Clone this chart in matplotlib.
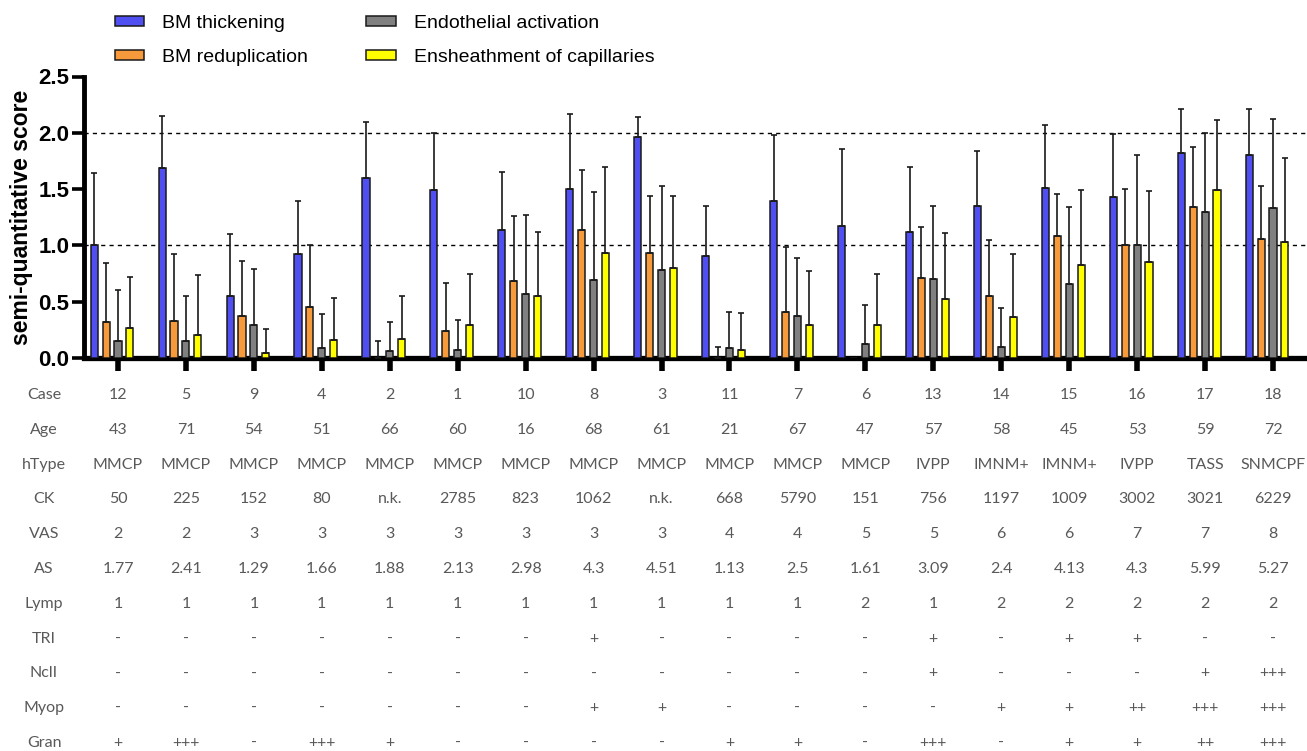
import matplotlib
matplotlib.use("Agg")
import matplotlib.pyplot as plt
import numpy as np
from matplotlib.transforms import blended_transform_factory

# ---------------- data ----------------
series = ["BM thickening", "BM reduplication", "Endothelial activation", "Ensheathment of capillaries"]
colors = ["#5050F2", "#F79A3C", "#808080", "#FFFF00"]

bm_thick_mean = [1.00, 1.69, 0.55, 0.92, 1.60, 1.49, 1.14, 1.50, 1.96, 0.91, 1.39, 1.17, 1.12, 1.35, 1.51, 1.43, 1.82, 1.80]
bm_thick_top  = [1.64, 2.15, 1.10, 1.39, 2.10, 2.00, 1.65, 2.17, 2.14, 1.35, 1.98, 1.86, 1.70, 1.84, 2.07, 1.99, 2.21, 2.21]
bm_redup_mean = [0.32, 0.33, 0.37, 0.45, 0.00, 0.24, 0.68, 1.14, 0.93, 0.00, 0.41, 0.00, 0.71, 0.55, 1.08, 1.00, 1.34, 1.06]
bm_redup_top  = [0.84, 0.92, 0.86, 1.00, 0.15, 0.67, 1.26, 1.67, 1.44, 0.10, 0.99, 0.00, 1.16, 1.05, 1.46, 1.50, 1.87, 1.53]
endo_mean     = [0.15, 0.15, 0.29, 0.09, 0.06, 0.07, 0.57, 0.69, 0.78, 0.09, 0.37, 0.12, 0.70, 0.10, 0.66, 1.00, 1.30, 1.33]
endo_top      = [0.60, 0.55, 0.79, 0.39, 0.32, 0.34, 1.27, 1.47, 1.53, 0.41, 0.89, 0.47, 1.35, 0.44, 1.34, 1.80, 2.00, 2.12]
ensh_mean     = [0.27, 0.20, 0.04, 0.16, 0.17, 0.29, 0.55, 0.93, 0.80, 0.07, 0.29, 0.29, 0.52, 0.36, 0.83, 0.85, 1.49, 1.03]
ensh_top      = [0.72, 0.74, 0.26, 0.53, 0.55, 0.75, 1.12, 1.70, 1.44, 0.40, 0.77, 0.75, 1.11, 0.92, 1.49, 1.48, 2.11, 1.78]

row_labels = ["Case", "Age", "hType", "CK", "VAS", "AS", "Lymp", "TRI", "NclI", "Myop", "Gran"]
case  = ["12", "5", "9", "4", "2", "1", "10", "8", "3", "11", "7", "6", "13", "14", "15", "16", "17", "18"]
age   = ["43", "71", "54", "51", "66", "60", "16", "68", "61", "21", "67", "47", "57", "58", "45", "53", "59", "72"]
htype = ["MMCP"] * 12 + ["IVPP", "IMNM+", "IMNM+", "IVPP", "TASS", "SNMCPF"]
ck    = ["50", "225", "152", "80", "n.k.", "2785", "823", "1062", "n.k.", "668", "5790", "151", "756", "1197", "1009", "3002", "3021", "6229"]
vas   = ["2", "2", "3", "3", "3", "3", "3", "3", "3", "4", "4", "5", "5", "6", "6", "7", "7", "8"]
as_   = ["1.77", "2.41", "1.29", "1.66", "1.88", "2.13", "2.98", "4.3", "4.51", "1.13", "2.5", "1.61", "3.09", "2.4", "4.13", "4.3", "5.99", "5.27"]
lymp  = ["1"] * 11 + ["2", "1", "2", "2", "2", "2", "2"]
tri   = ["-", "-", "-", "-", "-", "-", "-", "+", "-", "-", "-", "-", "+", "-", "+", "+", "-", "-"]
ncli  = ["-"] * 12 + ["+", "-", "-", "-", "+", "+++"]
myop  = ["-", "-", "-", "-", "-", "-", "-", "+", "+", "-", "-", "-", "-", "+", "+", "++", "+++", "+++"]
gran  = ["+", "+++", "-", "+++", "+", "-", "-", "-", "-", "+", "+", "-", "+++", "-", "+", "+", "++", "+++"]
rows = [case, age, htype, ck, vas, as_, lymp, tri, ncli, myop, gran]

means = [bm_thick_mean, bm_redup_mean, endo_mean, ensh_mean]
tops = [bm_thick_top, bm_redup_top, endo_top, ensh_top]

# ---------------- figure ----------------
W, H = 1307, 751
fig = plt.figure(figsize=(W / 100, H / 100), dpi=100)
ax = fig.add_axes([84 / W, (H - 358) / H, (W - 84) / W, (358 - 76.5) / H])

n = len(case)
x = np.arange(n)
offsets = [-0.35, -0.175, 0.0, 0.175]
bw = 0.105

for s in range(4):
    m = np.array(means[s])
    err = np.clip(np.array(tops[s]) - m, 0, None)
    ax.bar(x + offsets[s], m, width=bw, color=colors[s], edgecolor="#1a1a1a",
           linewidth=1.1, label=series[s], zorder=3)
    mask = err > 0
    ax.errorbar((x + offsets[s])[mask], m[mask], yerr=[np.zeros(mask.sum()), err[mask]],
                fmt="none", ecolor="#1a1a1a", elinewidth=1.2, capsize=2.5, capthick=1.2, zorder=4)

for yv in (1.0, 2.0):
    ax.axhline(yv, color="black", linestyle=(0, (3, 3)), linewidth=1.0, zorder=1)

ax.set_xlim(-0.5, n - 0.5)
ax.set_ylim(0, 2.5)
ax.set_yticks([0, 0.5, 1.0, 1.5, 2.0, 2.5])
ax.set_yticklabels(["0.0", "0.5", "1.0", "1.5", "2.0", "2.5"], fontsize=16, fontweight="bold",
                   family="Liberation Sans")
ax.set_xticks(x)
ax.set_xticklabels([])
ax.tick_params(axis="y", length=9, width=2.6, pad=1.5)
ax.tick_params(axis="x", length=9, width=4, direction="out")
for sp in ("top", "right"):
    ax.spines[sp].set_visible(False)
ax.spines["left"].set_linewidth(3.5)
ax.spines["bottom"].set_linewidth(3.8)
ax.set_ylabel("semi-quantitative score", fontsize=16.5, fontweight="bold", family="Liberation Sans",
              labelpad=4)

# legend
fig.legend(loc="upper left", bbox_to_anchor=(115 / W, 1 - 14.5 / H), ncol=2, frameon=False,
           borderpad=0, borderaxespad=0,
           prop={"family": "Liberation Sans", "size": 14}, handlelength=1.5, handleheight=0.42,
           columnspacing=3.0, labelspacing=0.9, handletextpad=0.93)

# table text
trans = blended_transform_factory(ax.transData, fig.transFigure)
row_y = [395, 429.8, 464.6, 499.4, 534.2, 569, 603.8, 638.6, 673.4, 708.2, 743]
tcol = "#595959"
for r, (lab, vals) in enumerate(zip(row_labels, rows)):
    yf = 1 - row_y[r] / H
    fig.text(44 / W, yf, lab, ha="center", va="center", fontsize=11.5, color=tcol, family="Lato")
    for i, v in enumerate(vals):
        ax.text(i, yf, v, transform=trans, ha="center", va="center", fontsize=11.5, color=tcol,
                family="Lato", clip_on=False)

fig.savefig("out.png", dpi=100)
